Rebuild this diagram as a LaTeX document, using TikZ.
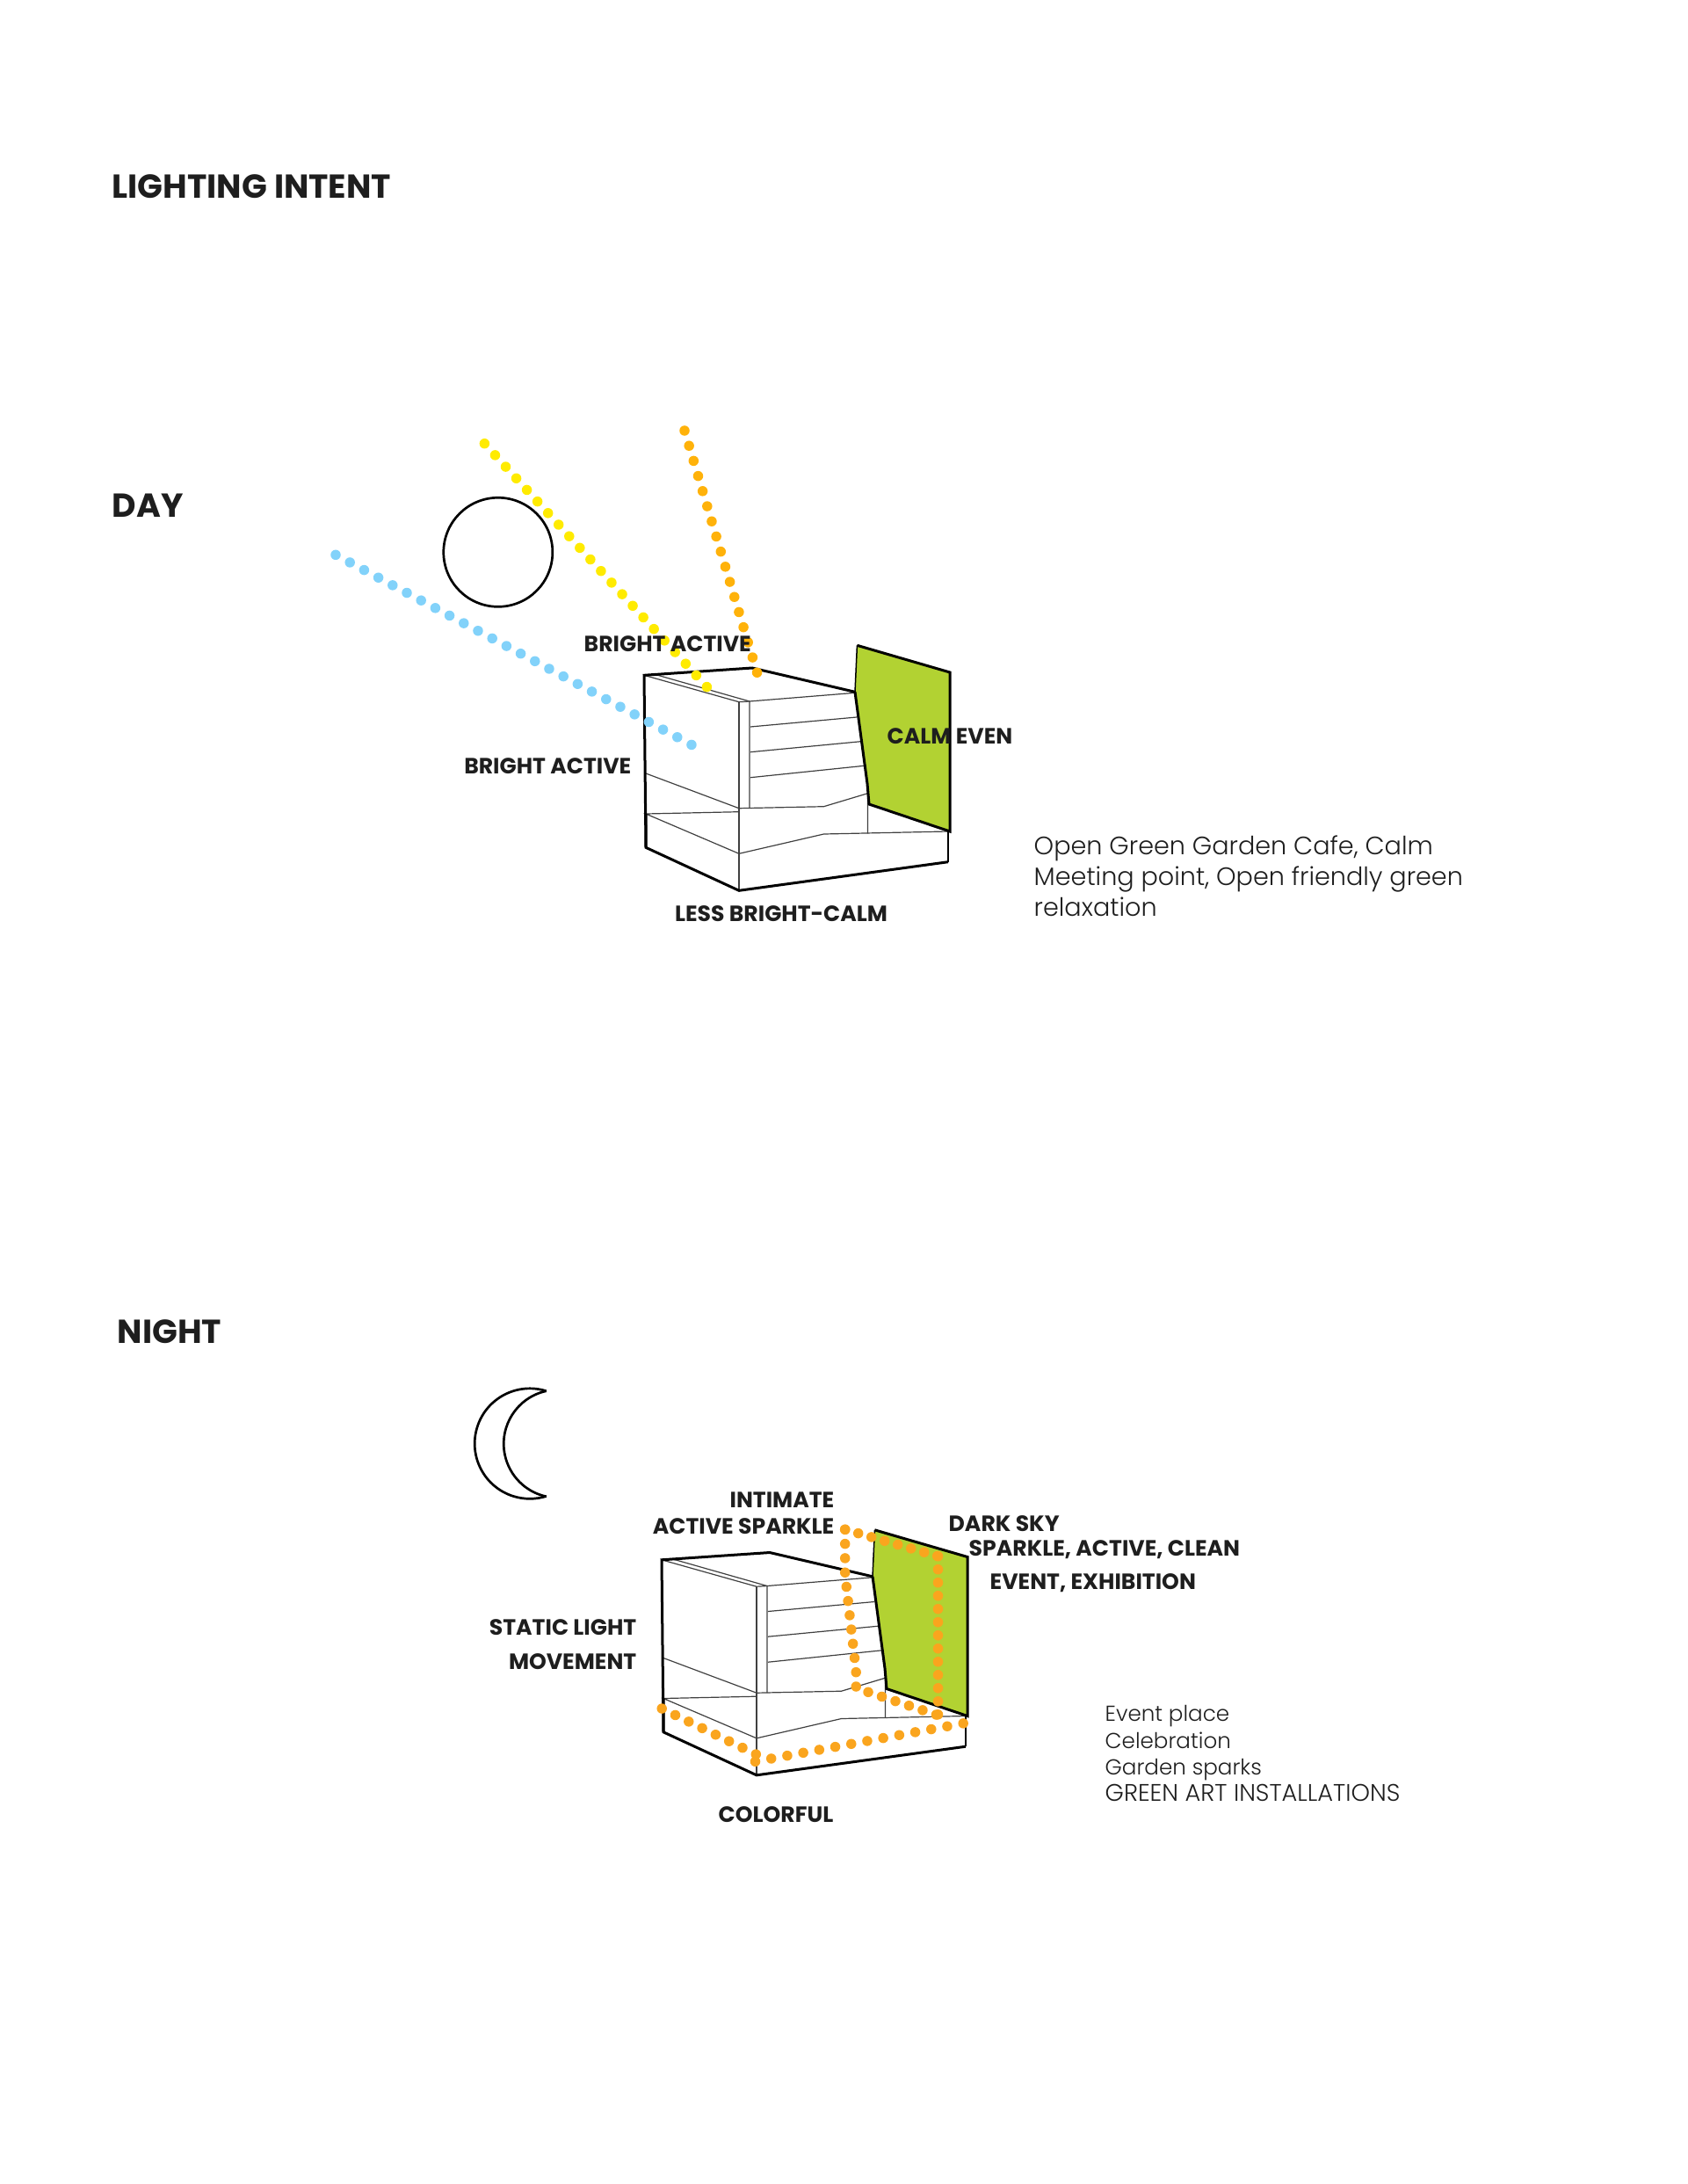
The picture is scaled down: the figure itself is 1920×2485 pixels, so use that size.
\documentclass[tikz,border=0pt]{standalone}
\usepackage{fontspec}
\setmainfont{Poppins}[UprightFont=* Light,BoldFont=* Bold]
\usepackage{tikz}
\usetikzlibrary{calc}
\definecolor{inkblack}{RGB}{30,30,30}
\definecolor{walllime}{RGB}{178,210,50}
\definecolor{rayyellow}{RGB}{255,235,0}
\definecolor{rayamber}{RGB}{255,178,10}
\definecolor{raysky}{RGB}{130,210,250}
\definecolor{glowamber}{RGB}{250,165,30}
\tikzset{
  heading/.style={font=\fontsize{10.75}{12}\selectfont\bfseries,text=inkblack,anchor=west,inner sep=0pt},
  tag/.style={font=\fontsize{7.15}{9}\selectfont\bfseries,text=inkblack,inner sep=0pt},
  note/.style={font=\fontsize{8.15}{9.9}\selectfont,text=inkblack,anchor=north west,align=left,inner sep=0pt},
  smallnote/.style={font=\fontsize{7}{8.6}\selectfont,text=inkblack,anchor=north west,align=left,inner sep=0pt},
  thinline/.style={line width=0.012cm,draw=black!75},
  heavyline/.style={line width=0.03cm,draw=black,line join=miter},
  dotrun/.style={line width=0.115cm,line cap=round,dash pattern=on 0pt off #1cm}
}
% one block with its green wall, in page pixels
\newcommand{\gardenblock}{
  \fill[walllime] (975.4,734.3) -- (1081,765) -- (1081,946) -- (989,915) -- (987,891.7) -- (973,787.3) -- cycle;
  \draw[thinline] (733,768.3) -- (841,798.7) -- (853,798) -- (973,788.3);
  \draw[thinline] (743,766.7) -- (853,798) -- (853,919.5);
  \draw[thinline] (841,798.7) -- (841,1013.3);
  \draw[thinline] (854,827) -- (975,816);
  \draw[thinline] (854,855.7) -- (979.5,843.7);
  \draw[thinline] (854,884.7) -- (983.5,871.3);
  \draw[thinline] (735,880) -- (841,919.7) -- (937.5,917.7) -- (987.5,902.7) -- (987.5,948.3);
  \draw[thinline] (841,923.7) -- (735,926) -- (841,971.3) -- (937.5,949) -- (1079,946);
  \draw[line width=0.017cm] (1079,946) -- (1079,980.7);
  \draw[heavyline] (735,964.3) -- (733,768.3) -- (856,760) -- (973,787.3);
  \draw[heavyline] (735,926) -- (735,964.3) -- (841,1013.3) -- (1079,980.7);
  \draw[line width=0.015cm] (973,787.3) -- (975.4,734.3);
  \draw[heavyline] (975.4,734.3) -- (1081,765) -- (1081,946) -- (989,915) -- (987,891.7) -- (973,787.3);
}

\begin{document}
\begin{tikzpicture}[x=0.01cm,y=-0.01cm]
  \useasboundingbox (0,0) rectangle (1920,2485);
  \node[heading] (title) at (127,212) {LIGHTING INTENT};
  \node[heading] (day) at (127,575) {DAY};
  \node[heading] (night) at (133,1515) {NIGHT};

  % day
  \node[draw=black,line width=0.027cm,circle,minimum size=1.24cm,inner sep=0pt] (sun) at (566.8,628.3) {};
  \gardenblock
  \coordinate (y1) at (551.4,504.7); \coordinate (y2) at (805.7,783);
  \coordinate (a1) at (779,490);     \coordinate (a2) at (862,766.7);
  \coordinate (s1) at (382,631.3);   \coordinate (s2) at (788.6,848.3);
  \draw[dotrun=0.1785,rayyellow] (y1) -- (y2);
  \draw[dotrun=0.1795,rayamber] (a1) -- (a2);
  \draw[dotrun=0.1835,raysky] (s1) -- (s2);
  \node[tag,anchor=west] (roof) at (664,733) {BRIGHT ACTIVE};
  \node[tag,anchor=east] (side) at (719,872) {BRIGHT ACTIVE};
  \node[tag] (wall) at (1081,838) {CALM EVEN};
  \node[tag] (base) at (889,1040) {LESS BRIGHT-CALM};
  \node[note] (daynote) at (1176,950) {Open Green Garden Cafe, Calm\\Meeting point, Open friendly green\\relaxation};

  % night
  \draw[line width=0.027cm] (621.7,1582.7) arc[start angle=72.6,end angle=287.4,radius=0.627cm];
  \draw[line width=0.027cm] (621.7,1582.7) arc[start angle=102.2,end angle=257.8,radius=0.614cm];
  \begin{scope}[shift={(20,1006.5)}]
    \gardenblock
  \end{scope}
  \coordinate (p1) at (961.7,1740.3); \coordinate (p2) at (1067.5,1770.7);
  \coordinate (p3) at (1067.5,1951.7);
  \coordinate (q1) at (753.2,1944);   \coordinate (q2) at (860.8,1996.3);
  \coordinate (r1) at (859.5,2004.3); \coordinate (r2) at (1097,1960.7);
  \draw[dotrun=0.156,glowamber] (p1) -- (p2);
  \draw[dotrun=0.15,glowamber] (p2) -- (p3);
  \draw[dotrun=0.163,glowamber] (p1) -- (961.7,1792) -- (974.2,1901) -- (974.2,1920.7) -- (p3);
  \draw[dotrun=0.17,glowamber] (q1) -- (q2);
  \draw[dotrun=0.185,glowamber] (r1) -- (r2);
  \node[tag,anchor=east] (intimate) at (950,1707) {INTIMATE};
  \node[tag,anchor=east] (sparkle) at (950,1737) {ACTIVE SPARKLE};
  \node[tag,anchor=west] (sky) at (1079,1734) {DARK SKY};
  \node[tag,anchor=west] (clean) at (1102,1763) {SPARKLE, ACTIVE, CLEAN};
  \node[tag,anchor=west] (event) at (1126,1801) {EVENT, EXHIBITION};
  \node[tag,anchor=east] (static) at (725,1852) {STATIC LIGHT};
  \node[tag,anchor=east] (move) at (725,1891) {MOVEMENT};
  \node[tag] (color) at (883,2065) {COLORFUL};
  \node[smallnote] (nightnote) at (1257,1940) {Event place\\Celebration\\Garden sparks\\\fontsize{7.75}{8.6}\selectfont GREEN ART INSTALLATIONS};
\end{tikzpicture}
\end{document}
